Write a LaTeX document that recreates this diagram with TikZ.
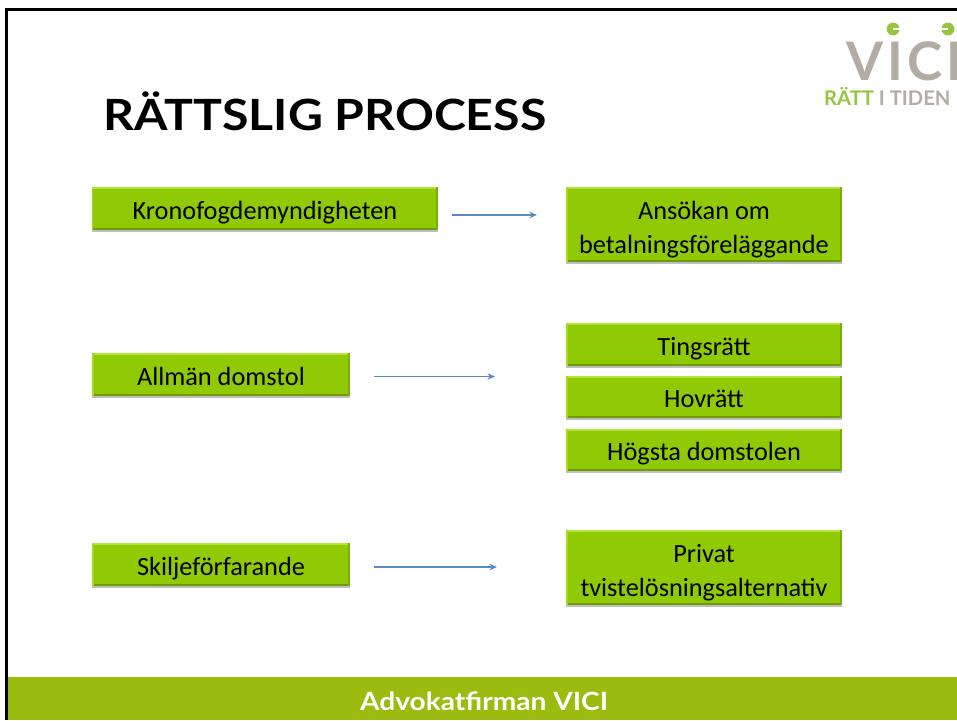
\documentclass[tikz,border=0pt]{standalone}
\usepackage{fontspec}
\setmainfont{Carlito}
\newfontfamily\headfont[FakeStretch=1.12]{Lato}
\newfontfamily\logofont{Lato}
\usetikzlibrary{arrows.meta}
\usetikzlibrary{shadows}

\begin{document}
\begin{tikzpicture}
        \definecolor{gboxcolor}{HTML}{8FCA05}
        \definecolor{gtopcolor}{HTML}{B4E33C}
        \definecolor{gbotcolor}{HTML}{6E9C08}
        \definecolor{gbarcolor}{HTML}{99BC0E}
        \definecolor{glogocolor}{HTML}{B3ACA3}
        \definecolor{gleafcolor}{HTML}{94C73D}
        \definecolor{garrowcolor}{HTML}{5B8BC4}
        \tikzset{>={Stealth[length=0.2cm,width=0.17cm]}}
        \tikzset{boxtext/.style={align=center,inner sep=0pt,text=black,font=\fontsize{19.8pt}{25.5pt}\selectfont}}
        \tikzset{box/.style={rectangle,fill=gboxcolor,inner sep=1.5pt,align=center,text=black,font=\fontsize{19.8pt}{25.5pt}\selectfont,
                execute at begin node={\rule[-0.15cm]{0pt}{0.87cm}},
                drop shadow={shadow xshift=0cm,shadow yshift=-0.05cm,fill=black,opacity=0.25},
                path picture={
                        \fill[gtopcolor] (path picture bounding box.north west) rectangle ([yshift=-0.06cm]path picture bounding box.north east);
                        \fill[gbotcolor] (path picture bounding box.south west) rectangle ([yshift=0.05cm]path picture bounding box.south east);
                        \fill[gtopcolor!60!gboxcolor] (path picture bounding box.north west) rectangle ([xshift=0.04cm]path picture bounding box.south west);
                        \fill[gbotcolor!60!gboxcolor] (path picture bounding box.north east) rectangle ([xshift=-0.04cm]path picture bounding box.south east);
                }}}
        \tikzset{flow/.style={->,draw=garrowcolor,line width=0.035cm}}

        \useasboundingbox (0cm,0cm) rectangle (25.32cm,-19.05cm);
        \fill[white] (0cm,0cm) rectangle (25.32cm,-19.05cm);

        \fill[black] (0.132cm,-0.212cm) rectangle (25.32cm,-0.291cm);
        \fill[black] (0.132cm,-0.212cm) rectangle (0.212cm,-19.05cm);
        \fill[gbarcolor] (0.212cm,-17.912cm) rectangle (25.32cm,-19.05cm);

        \node [anchor=base west, inner sep=0pt, font=\headfont\bfseries\fontsize{32.4pt}{40pt}\selectfont] (title) at (2.725cm,-3.44cm) {RÄTTSLIG PROCESS};
        \node [white, inner sep=0pt, font=\headfont\bfseries\fontsize{18.9pt}{24pt}\selectfont] (footer) at (12.806cm,-18.547cm) {Advokatfirman VICI};

        \node [box, minimum width=9.155cm, minimum height=1.138cm] (kronofog) at (7.011cm,-5.516cm) {Kronofogdemyndigheten};
        \node [box, minimum width=7.302cm, minimum height=1.984cm] (ansokan) at (18.626cm,-5.940cm) {};
        \node [boxtext] (ansokantext) at ([yshift=-0.132cm]ansokan.center) {Ansökan om\\betalningsföreläggande};
        \node [box, minimum width=6.826cm, minimum height=1.138cm] (allman) at (5.847cm,-9.909cm) {Allmän domstol};
        \node [box, minimum width=7.302cm, minimum height=1.138cm] (tingsratt) at (18.626cm,-9.115cm) {Tingsrätt};
        \node [box, minimum width=7.302cm, minimum height=1.111cm] (hovratt) at (18.626cm,-10.504cm) {Hovrätt};
        \node [box, minimum width=7.302cm, minimum height=1.111cm] (hogsta) at (18.626cm,-11.906cm) {Högsta domstolen};
        \node [box, minimum width=6.826cm, minimum height=1.138cm] (skilje) at (5.847cm,-14.936cm) {Skiljeförfarande};
        \node [box, minimum width=7.302cm, minimum height=1.984cm] (privat) at (18.626cm,-15.015cm) {};
        \node [boxtext] (privattext) at ([yshift=-0.132cm]privat.center) {Privat\\tvistelösningsalternativ};

        \coordinate (a0) at (11.959cm,-5.688cm);
        \coordinate (a1) at (14.208cm,-5.688cm);
        \coordinate (b0) at (9.895cm,-9.961cm);
        \coordinate (b1) at (13.097cm,-9.961cm);
        \coordinate (c0) at (9.895cm,-15.002cm);
        \coordinate (c1) at (13.150cm,-15.002cm);
        \draw [flow] (a0) to (a1);
        \draw [flow] (b0) to (b1);
        \draw [flow] (c0) to (c1);

        % logo
        \begin{scope}
        \clip (0cm,0cm) rectangle (25.32cm,-19.05cm);
        \node [anchor=base west, inner sep=0pt, text=glogocolor, font=\logofont\bfseries\fontsize{40pt}{42pt}\selectfont\addfontfeature{LetterSpace=8}] (vici) at (22.38cm,-2.143cm) {VICI};
        \fill[gleafcolor] (23.63cm,-0.767cm) circle (0.17cm);
        \fill[gleafcolor] (25.08cm,-0.767cm) circle (0.17cm);
        \fill[white] (23.63cm,-0.745cm) rectangle (23.85cm,-0.795cm);
        \fill[white] (24.86cm,-0.745cm) rectangle (25.08cm,-0.795cm);
        \node [anchor=base west, inner sep=0pt, font=\logofont\bfseries\fontsize{15.2pt}{16pt}\selectfont] (ratt) at (21.8cm,-2.78cm) {\textcolor{gleafcolor}{RÄTT} \textcolor{glogocolor}{I TIDEN}};
        \end{scope}
    \end{tikzpicture}
\end{document}
